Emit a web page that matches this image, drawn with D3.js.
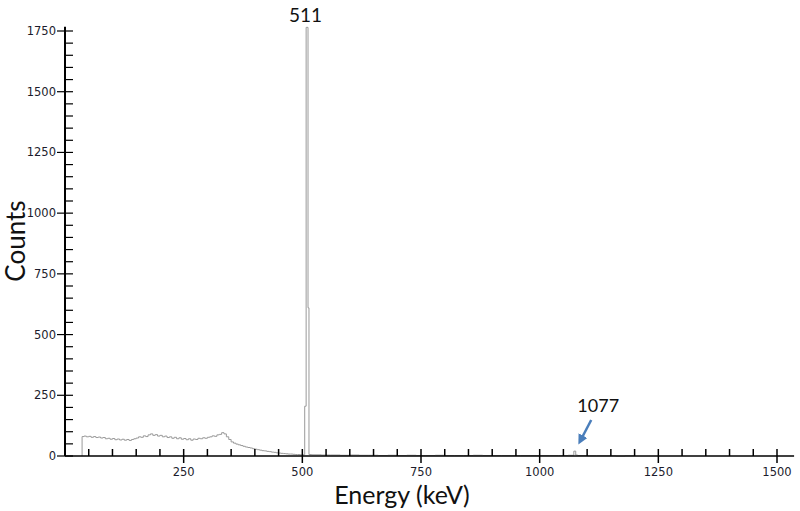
<!DOCTYPE html>
<html>
<head>
<meta charset="utf-8">
<script src="https://cdn.jsdelivr.net/npm/d3@7"></script>
<style>
  body { margin: 0; background: #fff; }
  svg { display: block; }
</style>
</head>
<body>
<div id="chart-area"></div>
<script>
const width = 800;
const height = 511;

// spectrum (keV, counts), drawn as a step histogram
const energy = [
  36, 36, 40, 45, 50, 55, 60, 65, 70, 75, 80, 85, 90, 95, 100, 105, 110, 115, 120,
  125, 130, 135, 140, 145, 150, 155, 160, 165, 170, 175, 180, 185, 190, 195, 200,
  205, 210, 215, 220, 225, 230, 235, 240, 245, 250, 255, 260, 265, 270, 275, 280,
  285, 290, 295, 300, 305, 310, 315, 320, 325, 330, 335, 340, 345, 350, 355, 360,
  365, 370, 375, 380, 385, 390, 395, 400, 405, 410, 415, 420, 425, 430, 435, 440,
  445, 450, 455, 460, 465, 470, 475, 480, 485, 490, 495, 500, 505, 508, 512, 514,
  520, 540, 560, 580, 600, 620, 640, 660, 680, 700, 720, 740, 760, 780, 800, 820,
  840, 860, 880, 900, 920, 940, 960, 980, 1000, 1020, 1040, 1060, 1072, 1076, 1080,
  1100, 1120, 1140, 1160, 1180, 1200
];
const counts = [
  0, 80, 82, 79, 81, 77, 80, 76, 78, 74, 76, 71, 73, 69, 72, 67, 70, 66, 69,
  65, 68, 64, 68, 71, 74, 79, 77, 83, 80, 87, 91, 85, 88, 82, 85,
  79, 82, 76, 79, 73, 77, 71, 75, 69, 72, 67, 71, 65, 70, 68, 73,
  71, 75, 73, 77, 79, 83, 81, 87, 89, 96, 91, 79, 68, 58, 53, 49,
  46, 43, 40, 37, 35, 33, 30, 28, 26, 24, 22, 21, 19, 18, 16, 15,
  13, 12, 11, 10, 9, 8, 8, 7, 6, 6, 5, 5, 205, 1765, 610, 6,
  5, 4, 4, 3, 4, 3, 3, 2, 3, 2, 3, 2, 2, 3, 2, 2,
  2, 3, 2, 2, 2, 2, 2, 2, 2, 2, 2, 3, 20, 4, 2,
  1, 1, 1, 0, 1, 0
];
const spectrum = energy.map((e, i) => ({ e, c: counts[i] }));

const xTicks = [250, 500, 750, 1000, 1250, 1500];
const yTicks = [0, 250, 500, 750, 1000, 1250, 1500, 1750];
const peaks = [
  { label: '511', e: 511 },
  { label: '1077', e: 1077 }
];

const x = d3.scaleLinear().domain([0, 1500]).range([65, 777]);
const y = d3.scaleLinear().domain([0, 1750]).range([456, 31]);

const svg = d3
  .select('#chart-area')
  .append('svg')
  .attr('width', width)
  .attr('height', height);

// spectrum line
const line = d3
  .line()
  .x((d) => x(d.e))
  .y((d) => y(d.c))
  .curve(d3.curveStepAfter);

svg
  .append('path')
  .datum(spectrum)
  .attr('fill', 'none')
  .attr('stroke', '#9a9a9a')
  .attr('stroke-width', 1)
  .attr('d', line);

// x axis: minor ticks upward, majors cross the line
const xAxis = svg.append('g').attr('transform', `translate(0,${y(0)})`);
xAxis
  .append('line')
  .attr('x1', x(0))
  .attr('x2', x(1536))
  .attr('stroke', '#000')
  .attr('stroke-width', 1.5);
xAxis
  .selectAll('line.minor')
  .data(d3.range(50, 1501, 50).filter((v) => v % 250 !== 0))
  .join('line')
  .attr('class', 'minor')
  .attr('x1', (d) => x(d))
  .attr('x2', (d) => x(d))
  .attr('y1', 0)
  .attr('y2', -7)
  .attr('stroke', '#000')
  .attr('stroke-width', 1.5);
xAxis
  .selectAll('line.major')
  .data(xTicks)
  .join('line')
  .attr('class', 'major')
  .attr('x1', (d) => x(d))
  .attr('x2', (d) => x(d))
  .attr('y1', -7)
  .attr('y2', 7)
  .attr('stroke', '#000')
  .attr('stroke-width', 1.5);
xAxis
  .selectAll('text')
  .data(xTicks)
  .join('text')
  .attr('x', (d) => x(d))
  .attr('y', 20)
  .attr('text-anchor', 'middle')
  .attr('font-family', 'DejaVu Sans')
  .attr('font-size', 11.5)
  .attr('fill', '#1c1c2c')
  .text((d) => d);

// y axis: minor ticks to the right, majors cross the line
const yAxis = svg.append('g').attr('transform', `translate(${x(0)},0)`);
yAxis
  .append('line')
  .attr('y1', y(0))
  .attr('y2', y(1768))
  .attr('stroke', '#000')
  .attr('stroke-width', 2);
yAxis
  .selectAll('line.minor')
  .data(d3.range(50, 1751, 50).filter((v) => v % 250 !== 0))
  .join('line')
  .attr('class', 'minor')
  .attr('y1', (d) => y(d))
  .attr('y2', (d) => y(d))
  .attr('x1', 0)
  .attr('x2', 8)
  .attr('stroke', '#000')
  .attr('stroke-width', 1.2);
yAxis
  .selectAll('line.major')
  .data(yTicks)
  .join('line')
  .attr('class', 'major')
  .attr('y1', (d) => y(d))
  .attr('y2', (d) => y(d))
  .attr('x1', -8)
  .attr('x2', 8)
  .attr('stroke', '#000')
  .attr('stroke-width', 1.2);
yAxis
  .selectAll('text')
  .data(yTicks)
  .join('text')
  .attr('x', -9)
  .attr('y', (d) => y(d))
  .attr('dy', '0.35em')
  .attr('text-anchor', 'end')
  .attr('font-family', 'DejaVu Sans')
  .attr('font-size', 11.5)
  .attr('fill', '#1c1c2c')
  .text((d) => d);

// axis titles
svg
  .append('text')
  .attr('x', 402)
  .attr('y', 504)
  .attr('text-anchor', 'middle')
  .attr('font-family', 'Lato')
  .attr('font-size', 25)
  .attr('fill', '#111')
  .text('Energy (keV)');

svg
  .append('text')
  .attr('transform', 'translate(25,241) rotate(-90)')
  .attr('text-anchor', 'middle')
  .attr('font-family', 'Lato')
  .attr('font-size', 26)
  .attr('fill', '#111')
  .text('Counts');

// peak labels
svg
  .append('text')
  .attr('x', x(peaks[0].e) - 2)
  .attr('y', 22)
  .attr('text-anchor', 'middle')
  .attr('font-family', 'Lato')
  .attr('font-size', 19)
  .attr('fill', '#111')
  .text(peaks[0].label);

svg
  .append('text')
  .attr('x', x(peaks[1].e) + 22)
  .attr('y', 412)
  .attr('text-anchor', 'middle')
  .attr('font-family', 'Lato')
  .attr('font-size', 18)
  .attr('fill', '#111')
  .text(peaks[1].label);

// arrow to the 1077 peak
svg
  .append('defs')
  .append('marker')
  .attr('id', 'arrow')
  .attr('viewBox', '0 0 10 10')
  .attr('refX', 6)
  .attr('refY', 5)
  .attr('markerWidth', 4)
  .attr('markerHeight', 4)
  .attr('orient', 'auto')
  .append('path')
  .attr('d', 'M0,0L10,5L0,10z')
  .attr('fill', '#4a7ebb');

svg
  .append('line')
  .attr('x1', x(peaks[1].e) + 15)
  .attr('y1', 420)
  .attr('x2', x(peaks[1].e) + 4)
  .attr('y2', 441)
  .attr('stroke', '#4a7ebb')
  .attr('stroke-width', 2.5)
  .attr('marker-end', 'url(#arrow)');
</script>
</body>
</html>
